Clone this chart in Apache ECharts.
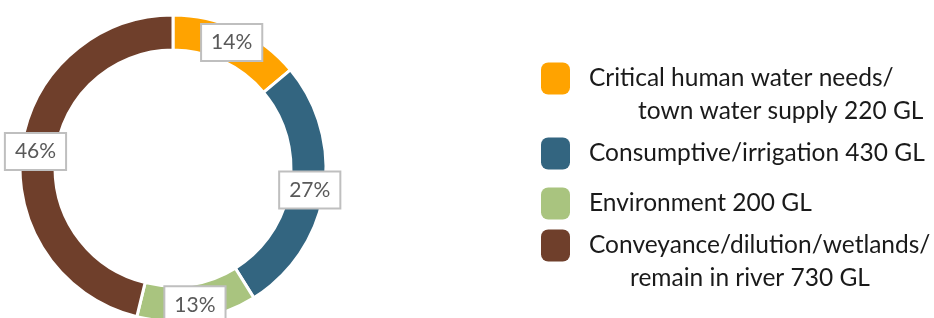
<!DOCTYPE html>
<html><head><meta charset="utf-8">
<script src="https://cdn.jsdelivr.net/npm/echarts@6/dist/echarts.min.js"></script>
<style>html,body{margin:0;padding:0;background:#fff}#c{width:934px;height:318px}</style>
</head><body><div id="c"></div>
<script>
const categories = ['Critical human water needs/ town water supply 220 GL','Consumptive/irrigation 430 GL','Environment 200 GL','Conveyance/dilution/wetlands/ remain in river 730 GL'];
const legendLine1 = ['Critical human water needs/','Consumptive/irrigation 430 GL','Environment 200 GL','Conveyance/dilution/wetlands/'];
const legendLine2 = ['town water supply 220 GL','','','remain in river 730 GL'];
const values = [220, 430, 200, 730];
const colors = ['#FFA300','#336580','#A9C47F','#6F3F2B'];

const FONT = 'Lato';
const legendTops = [67, 138, 188, 234];
const indents = [63, 0, 0, 55];
const chart = echarts.init(document.getElementById('c'));
const total = values.reduce((a,b)=>a+b,0);
const legends = categories.map((name,i)=>{
  const two = legendLine2[i] !== '';
  return {
    data:[name], orient:'vertical', left:541, top: two ? legendTops[i]-33.5 : legendTops[i]-0.5,
    padding:0, itemWidth:29, itemHeight:32, itemGap:0, icon:'roundRect', selectedMode:false,
    itemStyle:{borderWidth:0},
    formatter: ()=> two
      ? '{p| }\n{g| }{a|'+legendLine1[i]+'}\n{q| }{a|'+legendLine2[i]+'}'
      : '{g| }{a|'+legendLine1[i]+'}',
    textStyle:{
      rich:{
        a:{fontFamily:FONT,fontSize:24.5,color:'#1a1a1a',lineHeight:33},
        g:{width:14,fontSize:24,lineHeight:33},
        p:{width:1,fontSize:24,lineHeight:33},
        q:{width:indents[i],fontSize:24,lineHeight:33}
      }
    }
  };
});
chart.setOption({
  animation:false,
  color: colors,
  legend: legends,
  series:[{
    type:'pie', center:[173,168], radius:[118,153], startAngle:90, clockwise:true,
    itemStyle:{borderColor:'#fff',borderWidth:3},
    label:{
      show:true, position:'inside',
      formatter:p=>Math.round(p.value/total*100)+'%',
      fontFamily:FONT, fontSize:21, color:'#595959',
      backgroundColor:'#fff', borderColor:'#BFBFBF', borderWidth:2,
      padding:[8,9,6,9]
    },
    labelLine:{show:false},
    emphasis:{disabled:true},
    data: categories.map((n,i)=>({name:n,value:values[i]}))
  }]
});
</script></body></html>
